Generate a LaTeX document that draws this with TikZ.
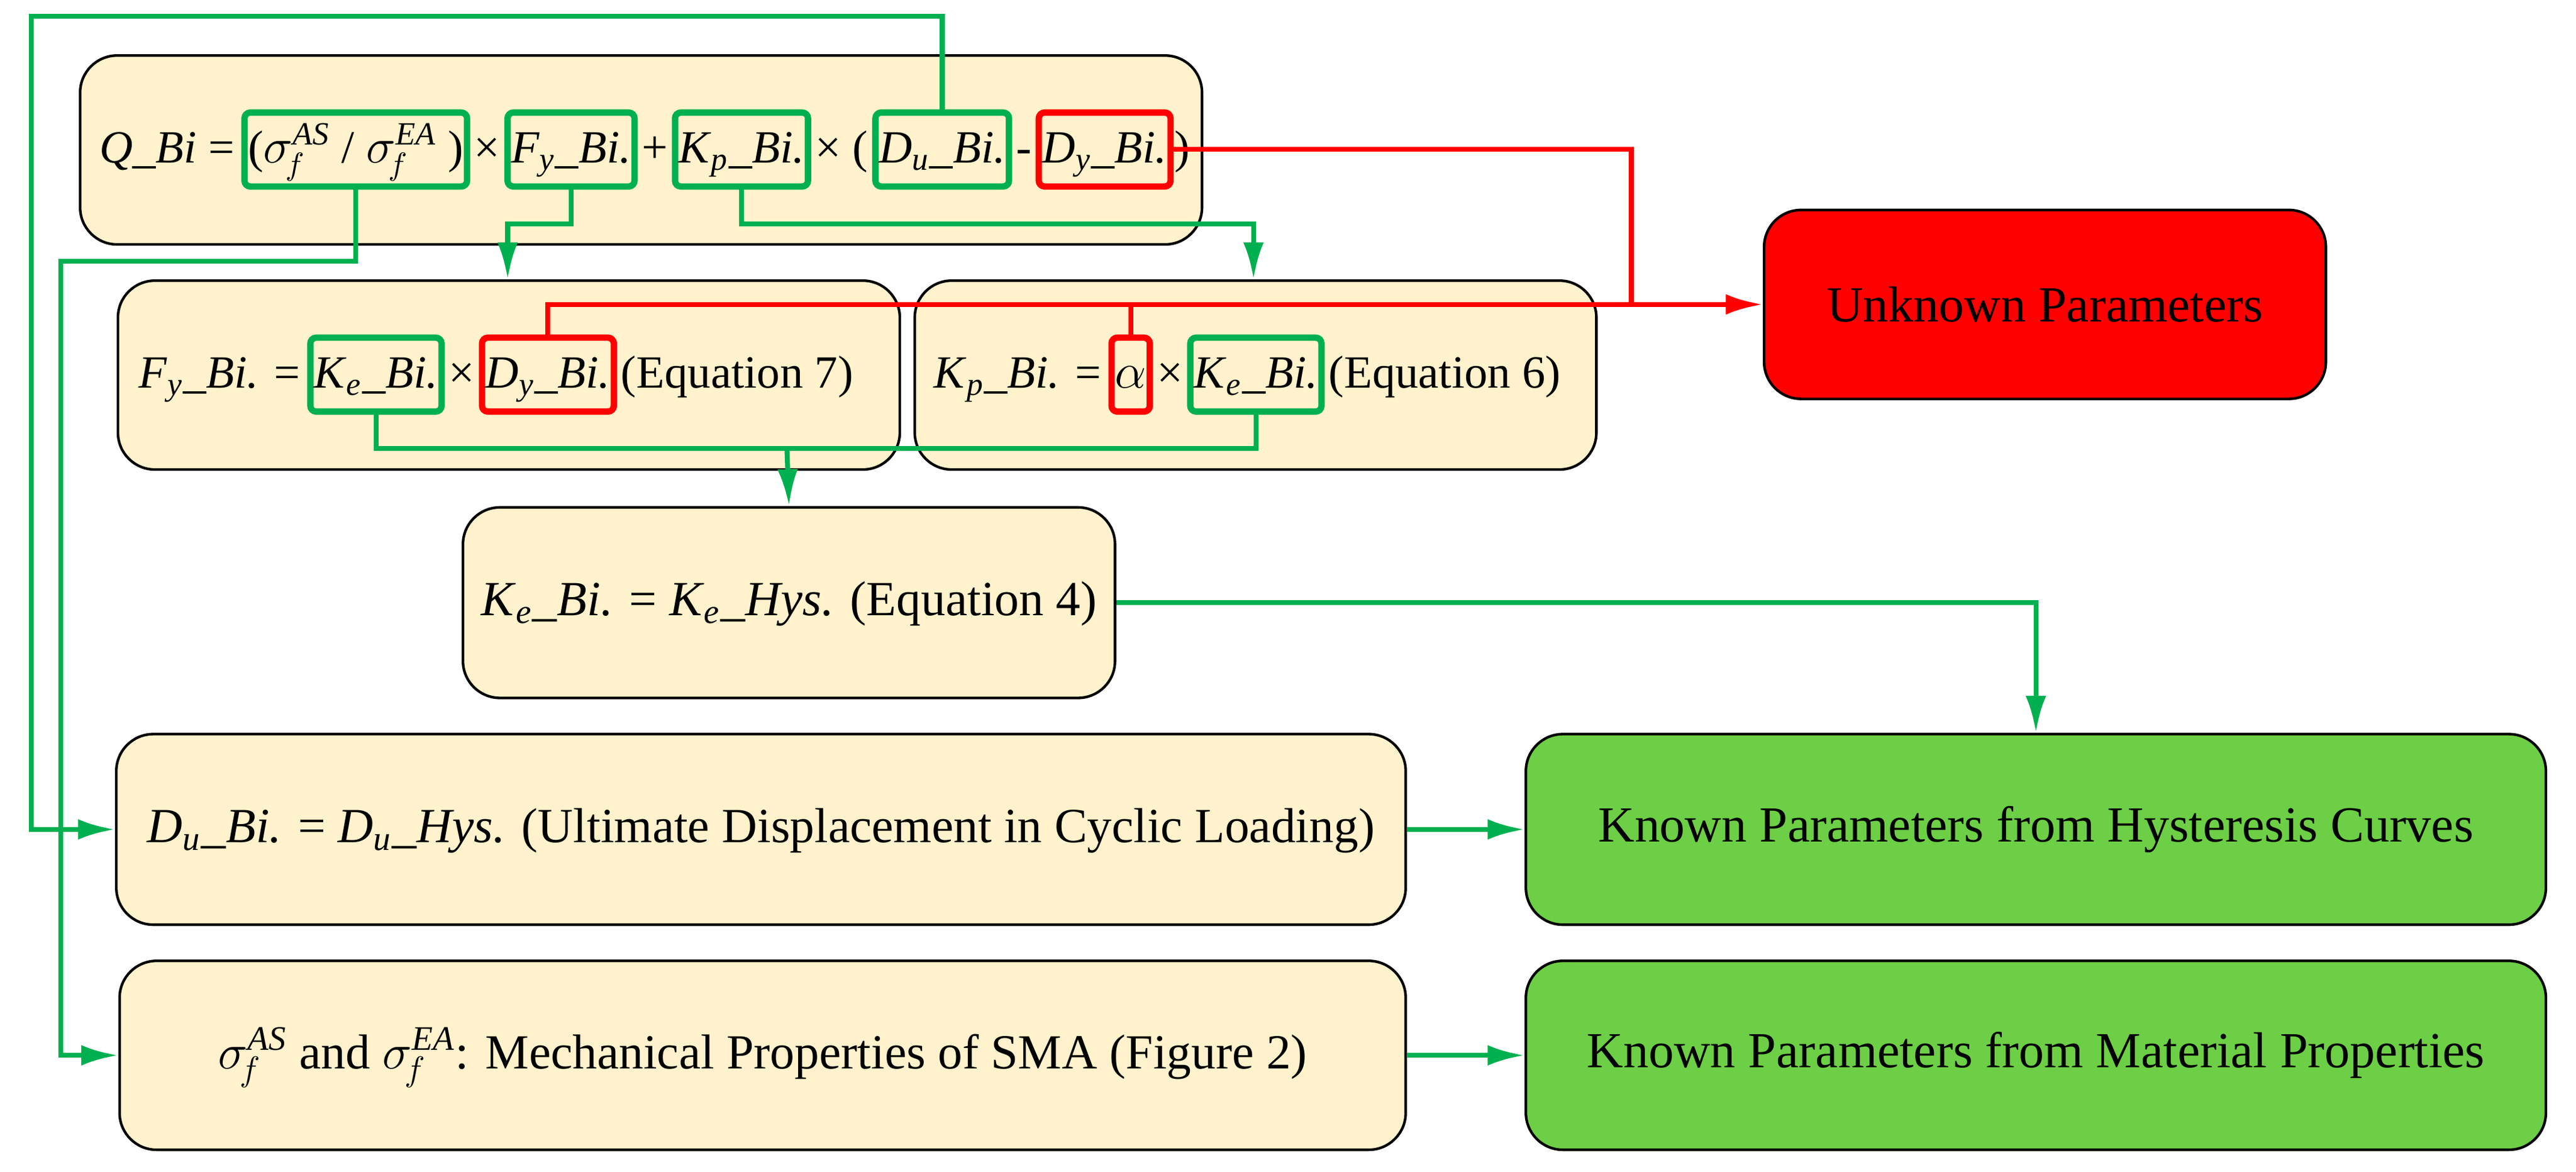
\documentclass[tikz,border=0pt]{standalone}
\usepackage{fontspec}
\setmainfont{Liberation Serif}
\usetikzlibrary{positioning,arrows.meta}
\definecolor{cream}{HTML}{FFF2CC}
\definecolor{ggreen}{HTML}{00B050}
\definecolor{kgreen}{HTML}{6DCF45}
\newcommand{\vsub}[2]{\textit{#1}\textsubscript{\textit{#2}}\_\textit{Bi.}}
\newcommand{\sgm}[1]{$\sigma_{\!f}^{\mathit{#1}}$}

\begin{document}
\begin{tikzpicture}[x=0.02cm, y=-0.02cm,
    every node/.style = {font=\fontsize{17.5}{20}\selectfont},
    eq/.style    = {font=\fontsize{16}{19}\selectfont},
    box/.style   = {draw, line width=0.9pt, rounded corners=0.45cm, fill=cream, anchor=north west},
    txt/.style   = {eq, inner xsep=1.2pt, inner ysep=0.11cm, text height=0.5cm, text depth=0.18cm},
    term/.style  = {txt, draw=ggreen, line width=2.2pt, rounded corners=2pt},
    rterm/.style = {term, draw=red},
    gline/.style = {draw=ggreen, line width=1.7pt},
    rline/.style = {draw=red, line width=1.7pt},
    garrow/.style = {gline, -{Latex[length=0.45cm,width=0.25cm]}},
    rarrow/.style = {rline, -{Latex[length=0.45cm,width=0.25cm]}}
  ]
    \useasboundingbox (0,0) rectangle (1568,713);

    % frames
    \node[box, minimum width=13.66cm, minimum height=2.3cm] (qbox) at (48,33) {};
    \node[box, minimum width=9.52cm, minimum height=2.3cm] (fy) at (71,170) {};
    \node[box, minimum width=8.3cm, minimum height=2.3cm] (kp) at (556,170) {};
    \node[box, minimum width=7.94cm, minimum height=2.32cm] (ke) at (281,308) {};
    \node[box, minimum width=15.7cm, minimum height=2.32cm] (du) at (70,446) {};
    \node[box, minimum width=15.66cm, minimum height=2.3cm] (sig) at (72,584) {};
    \node[box, fill=red, minimum width=6.84cm, minimum height=2.3cm] (unk) at (1073,127)
        {Unknown Parameters};
    \node[box, fill=kgreen, minimum width=12.42cm, minimum height=2.32cm] (hys) at (928,446)
        {Known Parameters from Hysteresis Curves};
    \node[box, fill=kgreen, minimum width=12.42cm, minimum height=2.3cm] (mat) at (928,584)
        {Known Parameters from Material Properties};

    % first equation
    \node[txt, anchor=west] (q0) at (58,91) {\textit{Q}\_\textit{Bi} =};
    \node[term, right=1pt of q0] (q1) {(\sgm{AS} / \sgm{EA} )};
    \node[txt, right=0pt of q1] (qa) {×};
    \node[term, right=0pt of qa] (q2) {\vsub{F}{y}};
    \node[txt, right=0pt of q2] (qb) {+};
    \node[term, right=0pt of qb] (q3) {\vsub{K}{p}};
    \node[txt, right=0pt of q3] (qc) {× (};
    \node[term, right=0pt of qc] (q4) {\vsub{D}{u}};
    \node[txt, right=0pt of q4] (qd) {-};
    \node[rterm, right=0pt of qd] (q5) {\vsub{D}{y}};
    \node[txt, right=0pt of q5, inner xsep=0pt] (qe) {)};

    % F_y and K_p equations
    \node[txt, anchor=west] (f0) at (82,228) {\vsub{F}{y} =};
    \node[term, right=1pt of f0] (f1) {\vsub{K}{e}};
    \node[txt, right=0pt of f1] (fa) {×};
    \node[rterm, right=0pt of fa] (f2) {\vsub{D}{y}};
    \node[txt, right=0pt of f2] (fb) {(Equation 7)};
    \node[txt, anchor=west] (k0) at (566,228) {\vsub{K}{p} =};
    \node[rterm, right=1pt of k0] (k1) {$\alpha$};
    \node[txt, right=0pt of k1] (ka) {×};
    \node[term, right=0pt of ka] (k2) {\vsub{K}{e}};
    \node[txt, right=0pt of k2] (kb) {(Equation 6)};

    % remaining texts
    \node[txt, font=\fontsize{17}{20}\selectfont] (ket) at (ke.center) {\vsub{K}{e} = \textit{K}\textsubscript{\textit{e}}\_\textit{Hys.} (Equation 4)};
    \node[txt, font=\fontsize{17}{20}\selectfont] (dut) at (du.center) {\vsub{D}{u} = \textit{D}\textsubscript{\textit{u}}\_\textit{Hys.} (Ultimate Displacement in Cyclic Loading)};
    \node[txt, font=\fontsize{17}{20}\selectfont] (sigt) at (sig.center) {\sgm{AS} and \sgm{EA}: Mechanical Properties of SMA (Figure 2)};

    \coordinate (tl) at (19,10);
    \coordinate (sl) at (37,159);
    \coordinate (rx) at (unk.west -| 993,0);
    \coordinate (kej) at (479,273);

    % connectors
    \draw[garrow] (q4.north) |- (tl) |- (du.west);
    \draw[garrow] (q1.south) |- (sl) |- (sig.west);
    \draw[garrow] (q2.south) -- ++(0,21) -| (fy.north -| 309,0);
    \draw[garrow] (q3.south) -- ++(0,21) -| (kp.north -| 763,0);
    \draw[rarrow] (q5.east) -| (rx) -- (unk.west);
    \draw[rline] (f2.north) |- (rx);
    \draw[rline] (k1.north) -- (k1.north |- rx);
    \draw[gline] (f1.south) |- (kej) -| (k2.south);
    \draw[garrow] (kej) -- (ke.north);
    \draw[garrow] (ke.east) -| (hys.north);
    \draw[garrow] (du.east) -- (hys.west);
    \draw[garrow] (sig.east) -- (mat.west);
  \end{tikzpicture}
\end{document}
